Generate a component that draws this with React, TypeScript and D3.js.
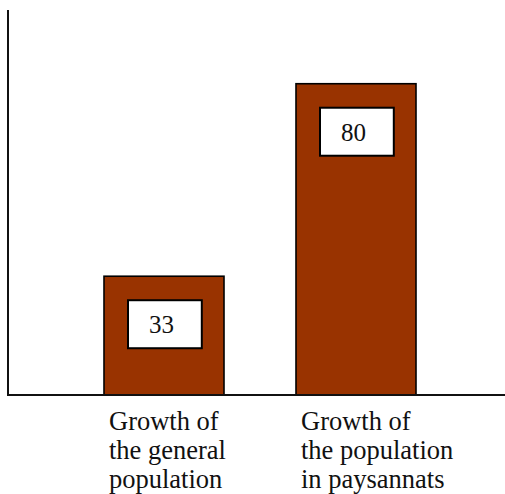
import React from "react";
import * as d3 from "d3";

// Chart data
const categories = ["general", "paysannats"];
const values = [33, 80];
const labelLines = [
  ["Growth of", "the general", "population"],
  ["Growth of", "the population", "in paysannats"],
];

const W = 505;
const H = 494;
const axisX = 8;
const baseY = 395;
const topY = 10;
const barColor = "#993300";
const font = "Liberation Serif";

export default function App() {
  const x = d3
    .scaleBand<string>()
    .domain(categories)
    .range([axisX, 512])
    .paddingInner(0.375)
    .paddingOuter(0.5);
  const y = d3.scaleLinear().domain([4, 98]).range([baseY, topY]);
  const bw = x.bandwidth();

  return (
    <svg
      width={W}
      height={H}
      style={{ position: "absolute", left: 0, top: 0, background: "#fff" }}
    >
      {categories.map((c, i) => {
        const x0 = x(c) as number;
        const yTop = y(values[i]);
        const boxX = x0 + bw * 0.2;
        const boxY = yTop + 24;
        return (
          <g key={c}>
            <rect
              x={x0}
              y={yTop}
              width={bw}
              height={baseY - yTop}
              fill={barColor}
              stroke="#000"
              strokeWidth={1.6}
            />
            <rect
              x={boxX}
              y={boxY}
              width={bw * 0.615}
              height={48}
              fill="#fff"
              stroke="#000"
              strokeWidth={2}
            />
            <text x={boxX + 21} y={boxY + 33} fontFamily={font} fontSize={25} fill="#111">
              {values[i]}
            </text>
            {labelLines[i].map((line, j) => (
              <text
                key={j}
                x={x0 + 5}
                y={430 + j * 29}
                fontFamily={font}
                fontSize={26.5}
                fill="#111"
              >
                {line}
              </text>
            ))}
          </g>
        );
      })}
      <line x1={axisX} y1={topY} x2={axisX} y2={baseY} stroke="#111" strokeWidth={2} />
      <line x1={axisX - 1} y1={baseY} x2={W} y2={baseY} stroke="#111" strokeWidth={2} />
    </svg>
  );
}
